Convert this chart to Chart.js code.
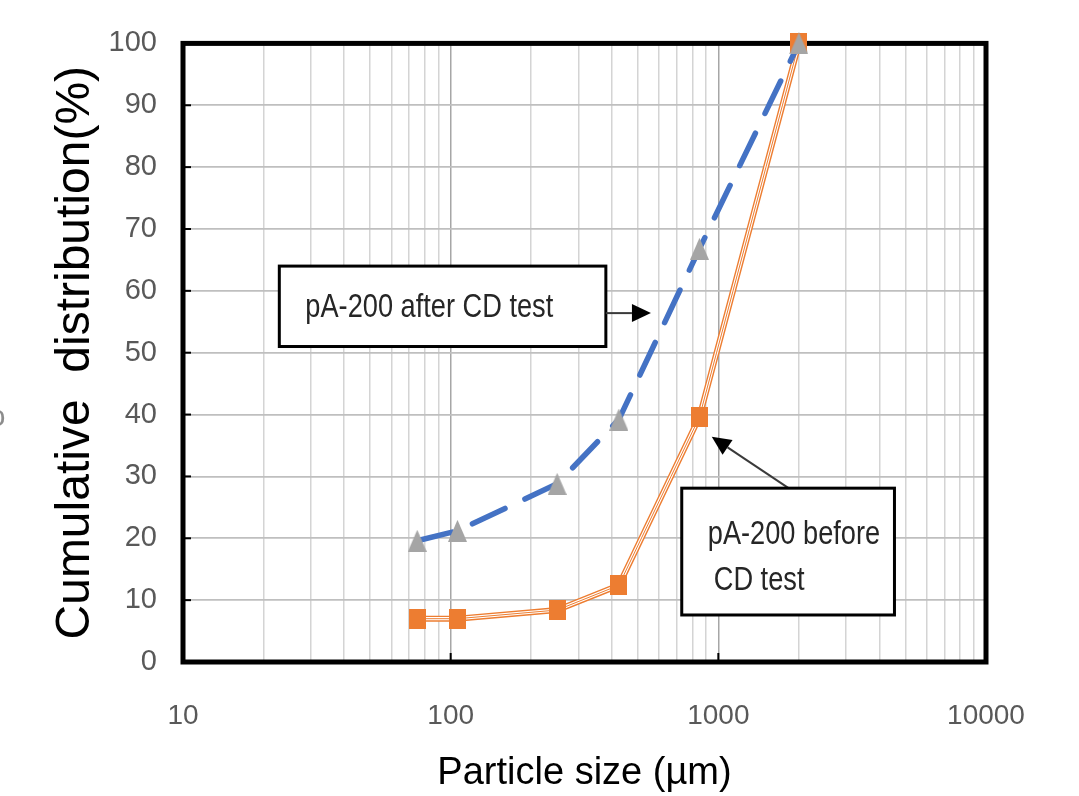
<!DOCTYPE html>
<html>
<head>
<meta charset="utf-8">
<script src="https://cdn.jsdelivr.net/npm/chart.js@4"></script>
<style>
  html, body { margin: 0; padding: 0; background: #fff; }
  #c { display: block; }
</style>
</head>
<body>
<canvas id="c" width="1079" height="796"></canvas>
<script>
// sieve sizes (µm) and cumulative passing (%)
var particleSizes = [75, 106, 250, 425, 850, 2000];
var beforeCD = [7.0, 7.0, 8.4, 12.4, 39.6, 100];
var afterCD = [19.6, 21.2, 28.8, 39.2, 66.8, 100];
var xTickLabels = ['10', '100', '1000', '10000'];
var yTickLabels = ['0', '10', '20', '30', '40', '50', '60', '70', '80', '90', '100'];

var ORANGE = '#ed7d31';
var BLUE = '#4472c4';
var GREY = '#a5a5a5';
var SANS = '"Liberation Sans", Arial, sans-serif';

function pts(ys) {
  return particleSizes.map(function (s, i) { return { x: s, y: ys[i] }; });
}

// markers in the source are a bit taller than wide
function markerCanvas(w, h, color, shape) {
  var cv = document.createElement('canvas');
  cv.width = w; cv.height = h;
  var g = cv.getContext('2d');
  g.fillStyle = color;
  if (shape === 'tri') {
    g.beginPath(); g.moveTo(w / 2, 0); g.lineTo(w, h); g.lineTo(0, h); g.closePath(); g.fill();
  } else {
    g.fillRect(0, 0, w, h);
  }
  return cv;
}
var squareMark = markerCanvas(17, 20, ORANGE, 'rect');
var triangleMark = markerCanvas(19, 22, GREY, 'tri');

// frame, inner tick marks and the two callouts
var decorations = {
  id: 'decorations',
  beforeDatasetsDraw: function (chart) {
    var a = chart.chartArea, ctx = chart.ctx;
    var xs = chart.scales.x, ys = chart.scales.y;
    ctx.save();
    ctx.strokeStyle = '#000';
    ctx.lineWidth = 2;
    // y ticks pointing inward
    yTickLabels.forEach(function (t) {
      var py = ys.getPixelForValue(+t);
      ctx.beginPath(); ctx.moveTo(a.left, py); ctx.lineTo(a.left + 8, py); ctx.stroke();
    });
    [100, 1000].forEach(function (v) {
      var px = xs.getPixelForValue(v);
      ctx.beginPath(); ctx.moveTo(px, a.bottom); ctx.lineTo(px, a.bottom - 9); ctx.stroke();
    });
    ctx.lineWidth = 5;
    ctx.strokeRect(a.left, a.top, a.right - a.left, a.bottom - a.top);
    // clipped glyph at the far left edge of the source image
    ctx.fillStyle = '#8c8c8c';
    ctx.font = '30px ' + SANS;
    ctx.textAlign = 'center';
    ctx.textBaseline = 'middle';
    ctx.fillText('o', -3, ys.getPixelForValue(39.5));
    ctx.restore();
  },
  afterDatasetsDraw: function (chart) {
    var ctx = chart.ctx;
    var xs = chart.scales.x, ys = chart.scales.y;
    function X(v) { return xs.getPixelForValue(v); }
    function Y(v) { return ys.getPixelForValue(v); }

    function arrow(x1, y1, x2, y2) {
      var ang = Math.atan2(y2 - y1, x2 - x1), len = 19, half = 9;
      var bx = x2 - len * Math.cos(ang), by = y2 - len * Math.sin(ang);
      ctx.strokeStyle = '#3a3a3a';
      ctx.lineWidth = 2;
      ctx.beginPath(); ctx.moveTo(x1, y1); ctx.lineTo(bx, by); ctx.stroke();
      ctx.fillStyle = '#000';
      ctx.beginPath();
      ctx.moveTo(x2, y2);
      ctx.lineTo(bx + half * Math.sin(ang), by - half * Math.cos(ang));
      ctx.lineTo(bx - half * Math.sin(ang), by + half * Math.cos(ang));
      ctx.closePath(); ctx.fill();
    }
    // narrow text: regular face squeezed horizontally
    function narrowText(s, x, y) {
      ctx.save();
      ctx.translate(x, y);
      ctx.scale(0.8, 1);
      ctx.fillText(s, 0, 0);
      ctx.restore();
    }
    function box(x1, y1, x2, y2, lines, tx, ty, lh) {
      ctx.fillStyle = '#fff';
      ctx.fillRect(x1, y1, x2 - x1, y2 - y1);
      ctx.strokeStyle = '#000';
      ctx.lineWidth = 3;
      ctx.strokeRect(x1, y1, x2 - x1, y2 - y1);
      ctx.fillStyle = '#262626';
      ctx.font = '34px ' + SANS;
      ctx.textBaseline = 'middle';
      ctx.textAlign = 'left';
      lines.forEach(function (l, i) { narrowText(l[0], tx + l[1], ty + i * lh); });
    }
    ctx.save();
    // after CD test
    var b1 = [X(22.9), Y(64), X(380), Y(51)];
    box(b1[0], b1[1], b1[2], b1[3], [['pA-200 after CD test', 0]], b1[0] + 26, (b1[1] + b1[3]) / 2 + 1, 0);
    arrow(b1[2], Y(56.4), X(560), Y(56.4));
    // before CD test
    var b2 = [X(730), Y(28.1), X(4550), Y(7.6)];
    arrow(X(1830), Y(28.1), X(945), Y(36.4));
    box(b2[0], b2[1], b2[2], b2[3], [['pA-200 before', 0], ['CD test', 6]], b2[0] + 26, b2[1] + 46, 46);
    ctx.restore();
  }
};

var whiteBg = {
  id: 'whiteBg',
  beforeDraw: function (chart) {
    var ctx = chart.ctx;
    ctx.save(); ctx.fillStyle = '#fff'; ctx.fillRect(0, 0, chart.width, chart.height); ctx.restore();
  }
};

new Chart(document.getElementById('c').getContext('2d'), {
  type: 'line',
  data: {
    datasets: [
      { label: 'before-outer', data: pts(beforeCD), borderColor: ORANGE, borderWidth: 6, pointRadius: 0, clip: false, order: 5 },
      { label: 'before-gap', data: pts(beforeCD), borderColor: '#fff', borderWidth: 3.2, pointRadius: 0, clip: false, order: 4 },
      { label: 'before-mid', data: pts(beforeCD), borderColor: ORANGE, borderWidth: 1, pointRadius: 0, clip: false, order: 3 },
      { label: 'pA-200 before CD test', data: pts(beforeCD), showLine: false, pointStyle: squareMark, pointRadius: 10,
        clip: false, order: 2 },
      { label: 'pA-200 after CD test', data: pts(afterCD), borderColor: BLUE, borderWidth: 5.5, borderDash: [36, 22],
        borderCapStyle: 'round', pointStyle: triangleMark, pointRadius: 11, clip: false, order: 1 }
    ]
  },
  options: {
    responsive: false,
    animation: false,
    events: [],
    layout: { padding: { left: 0, right: 93, top: 42, bottom: 0 } },
    plugins: { legend: { display: false }, tooltip: { enabled: false } },
    scales: {
      x: {
        type: 'logarithmic',
        min: 10, max: 10000,
        afterBuildTicks: function (scale) {
          var t = [];
          [10, 100, 1000].forEach(function (d) { for (var k = 1; k < 10; k++) t.push({ value: k * d }); });
          t.push({ value: 10000 });
          scale.ticks = t;
        },
        afterFit: function (scale) { scale.height = 134; },
        grid: {
          drawTicks: false,
          color: function (c) { return xTickLabels.indexOf(String(c.tick.value)) >= 0 ? '#a6a6a6' : '#d4d4d4'; },
          lineWidth: 1.5
        },
        border: { display: false },
        ticks: {
          autoSkip: false, maxRotation: 0, padding: 40,
          color: '#595959',
          font: { family: SANS, size: 28, lineHeight: 1 },
          callback: function (v) { return xTickLabels.indexOf(String(v)) >= 0 ? String(v) : ''; }
        },
        title: {
          display: true, text: 'Particle size (µm)', color: '#000',
          font: { family: SANS, size: 38, lineHeight: 1 },
          padding: { top: 0, bottom: 3 }
        }
      },
      y: {
        min: 0, max: 100,
        afterFit: function (scale) { scale.width = 183; },
        afterBuildTicks: function (scale) {
          scale.ticks = yTickLabels.map(function (t) { return { value: +t }; });
        },
        grid: { drawTicks: false, color: '#bfbfbf', lineWidth: 1.8 },
        border: { display: false },
        ticks: {
          padding: 26, color: '#595959',
          font: { family: SANS, size: 29 },
          callback: function (v) { return String(v); }
        },
        title: {
          display: true, text: 'Cumulative  distribution(%)', color: '#000',
          font: { family: SANS, size: 48, lineHeight: 1 },
          padding: { top: 52, bottom: 0 }
        }
      }
    }
  },
  plugins: [whiteBg, decorations]
});
</script>
</body>
</html>
